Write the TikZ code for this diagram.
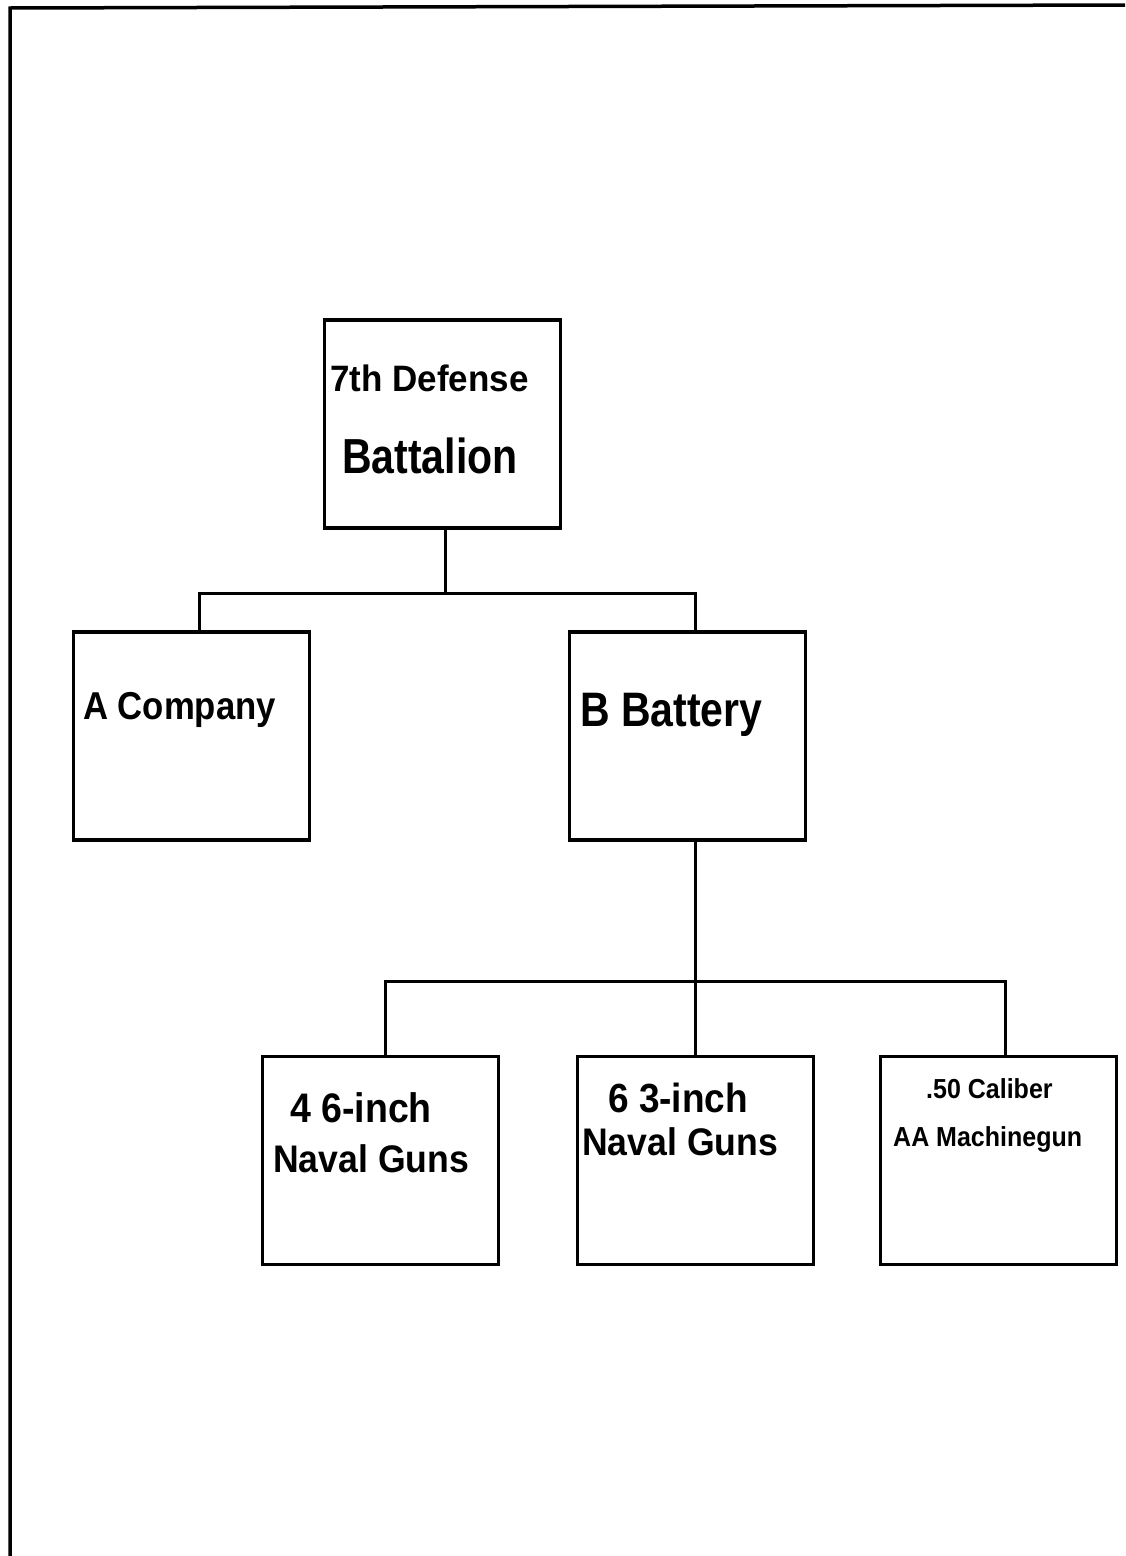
\documentclass[tikz,border=0pt]{standalone}
\usepackage{fontspec}
\usepackage{graphicx}
\setmainfont{Liberation Sans}
\usetikzlibrary{positioning}

\newcommand{\tallish}[2]{\scalebox{1}[#1]{#2}}

\begin{document}
\begin{tikzpicture}[
  x=1pt, y=-1pt,
  node distance=79pt,
  box/.style={draw, line width=3.5pt, minimum width=236pt, minimum height=208pt, inner sep=0pt, outer sep=0pt},
  txt/.style={anchor=base west, inner sep=0pt, font=\bfseries\fontsize{#1}{#1}\selectfont},
  conn/.style={line width=3pt},
  frame/.style={line width=3.5pt}]
  \useasboundingbox (0,0) rectangle (1125,1556);
  \draw[frame] (1125,5) -- (10,8) -- (10,1556);
  % boxes
  \node[box] (bn) at (442.5,424) {};
  \node[box] (ac) at (191.5,736) {};
  \node[box, right=260pt of ac] (bb) {};
  \node[box] (g6) at (380.5,1160.5) {};
  \node[box, right=of g6] (g3) {};
  \node[box, right=67pt of g3] (mg) {};
  % texts
  \node[txt=35] (bn1) at (330,391) {\tallish{1.05}{7th Defense}};
  \node[txt=41] (bn2) at (342,473) {\tallish{1.2}{Battalion}};
  \node[txt=34.7] (ac1) at (83,719) {\tallish{1.12}{A Company}};
  \node[txt=41] (bb1) at (580,726) {\tallish{1.18}{B Battery}};
  \node[txt=37.5] (g61) at (290,1122) {\tallish{1.1}{4 6-inch}};
  \node[txt=35.6] (g62) at (273,1172) {\tallish{1.08}{Naval Guns}};
  \node[txt=37] (g31) at (608,1112) {\tallish{1.1}{6 3-inch}};
  \node[txt=35.6] (g32) at (582,1155) {\tallish{1.08}{Naval Guns}};
  \node[txt=25] (mg1) at (926,1098) {\tallish{1.1}{.50 Caliber}};
  \node[txt=25] (mg2) at (893,1146) {\tallish{1.1}{AA Machinegun}};
  % connectors
  \draw[conn] ([xshift=2.5pt]bn.south) -- ++(0,65) -| ([xshift=7.5pt]ac.north);
  \draw[conn] ([xshift=2.5pt]bn.south) ++(0,65) -| (bb.north -| g3.north);
  \draw[conn] (g3.north |- bb.south) -- (g3.north);
  \draw[conn] (g3.north |- bb.south) ++(0,141) -| ([xshift=5pt]g6.north);
  \draw[conn] (g3.north |- bb.south) ++(0,141) -| ([xshift=7pt]mg.north);
\end{tikzpicture}
\end{document}
